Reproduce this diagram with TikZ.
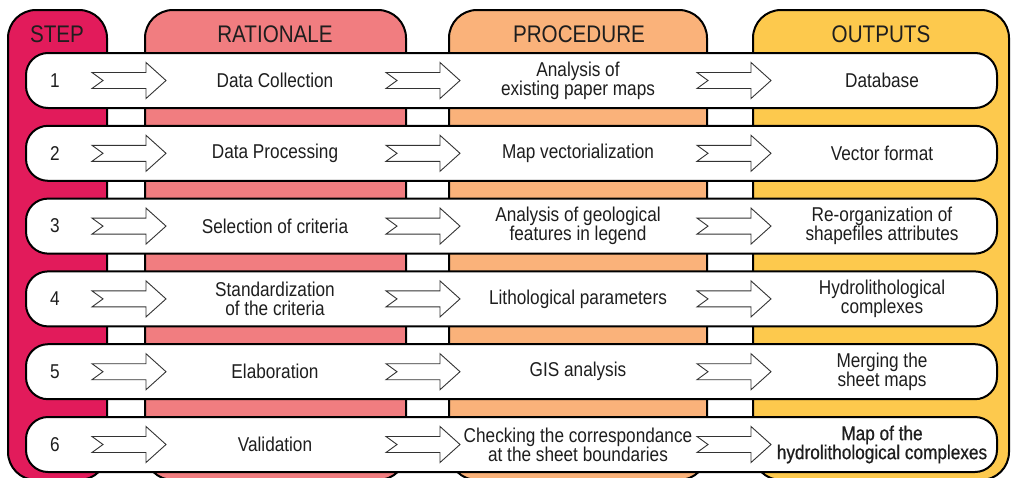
\documentclass[tikz,border=0pt]{standalone}
\usepackage{fontspec}
\setmainfont{Liberation Sans}
\newfontfamily\narrowfont[FakeStretch=0.86]{Liberation Sans}
\newfontfamily\narrowboldfont[FakeStretch=0.86,FakeBold=0.6]{Liberation Sans}
\definecolor{stepc}{RGB}{226,27,91}
\definecolor{ratc}{RGB}{241,125,128}
\definecolor{procc}{RGB}{250,178,122}
\definecolor{outc}{RGB}{253,201,77}
\definecolor{txt}{RGB}{30,30,30}
\tikzset{
  colbox/.style={draw=black, line width=2pt, rounded corners=28pt},
  rowbox/.style={draw=black, line width=2pt, fill=white, rounded corners=22pt},
  hdr/.style={font=\narrowfont\fontsize{24}{26}\selectfont, text=txt, inner sep=0pt},
  celltxt/.style={font=\narrowfont\fontsize{20}{19}\selectfont, text=txt, align=center, inner sep=0pt},
  hollowarrow/.pic={
    \draw[line width=0.9pt, draw=black!80, fill=white, line join=miter]
      (0,-8) -- (54,-8) -- (54,-18) -- (74,0) -- (54,18) -- (54,8) -- (0,8) -- (11,0) -- cycle;
  }
}
\begin{document}
\begin{tikzpicture}[x=1pt,y=-1pt]
\useasboundingbox[fill=white] (0,0) rectangle (1011,477);
\begin{scope}
\clip (0,0) rectangle (1011,477);
% columns
\draw[colbox, fill=stepc] (8,10) rectangle (107,480);
\draw[colbox, fill=ratc] (145,10) rectangle (406,480);
\draw[colbox, fill=procc] (449,10) rectangle (707,480);
\draw[colbox, fill=outc] (753,10) rectangle (1009,480);
% headers
\node[hdr] (hstep) at (57,34) {STEP};
\node[hdr] (hrat) at (275,34) {RATIONALE};
\node[hdr] (hproc) at (579,34) {PROCEDURE};
\node[hdr] (hout) at (881,34) {OUTPUTS};
% rows
\foreach \i/\s/\r/\p/\o in {
  1/1/{Data Collection}/{Analysis of\\existing paper maps}/{Database},
  2/2/{Data Processing}/{Map vectorialization}/{Vector format},
  3/3/{Selection of criteria}/{Analysis of geological\\features in legend}/{Re-organization of\\shapefiles attributes},
  4/4/{Standardization\\of the criteria}/{Lithological parameters}/{Hydrolithological\\complexes},
  5/5/{Elaboration}/{GIS analysis}/{Merging the\\sheet maps},
  6/6/{Validation}/{Checking the correspondance\\at the sheet boundaries}/{\narrowboldfont Map of the\\\narrowboldfont hydrolithological complexes}}{
  \pgfmathsetmacro{\yt}{53+72.8*(\i-1)}
  \pgfmathsetmacro{\yc}{\yt+27.5}
  \draw[rowbox] (26,\yt) rectangle (997,\yt+55);
  \node[celltxt] (s\i) at (55,\yc) {\s};
  \node[celltxt] (r\i) at (275,\yc) {\r};
  \node[celltxt] (p\i) at (578,\yc) {\p};
  \node[celltxt] (o\i) at (882,\yc) {\o};
  \pic at (92,\yc) {hollowarrow};
  \pic at (386,\yc) {hollowarrow};
  \pic at (697,\yc) {hollowarrow};
}
\end{scope}
\end{tikzpicture}
\end{document}
